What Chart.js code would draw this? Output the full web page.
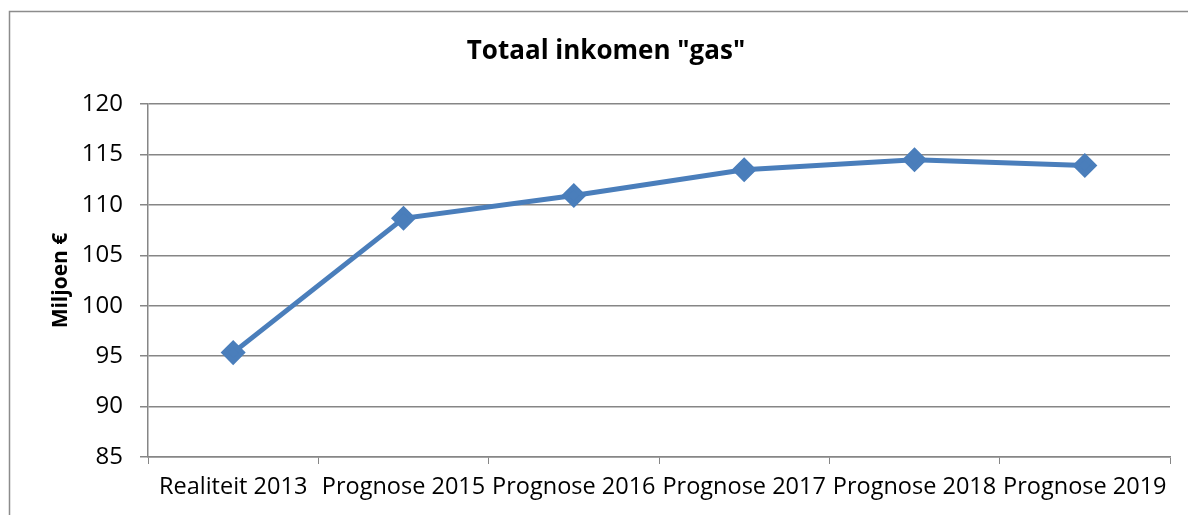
<!DOCTYPE html>
<html>
<head>
<meta charset="utf-8">
<script src="https://cdn.jsdelivr.net/npm/chart.js@4"></script>
<style>
  html, body { margin: 0; padding: 0; background: #fff; }
  #chart { display: block; }
</style>
</head>
<body>
<canvas id="chart" width="1188" height="515"></canvas>
<script>
// chart data
const categories = ['Realiteit 2013', 'Prognose 2015', 'Prognose 2016', 'Prognose 2017', 'Prognose 2018', 'Prognose 2019'];
const inkomen = [95.35, 108.67, 110.93, 113.48, 114.48, 113.9];
const yTicks = [85, 90, 95, 100, 105, 110, 115, 120];

const FONT = "'Open Sans', 'Noto Sans', sans-serif";
const GRID = '#868686';

// outer frame (only left and top edge visible in the picture)
const framePlugin = {
  id: 'frame',
  beforeDraw(chart) {
    const ctx = chart.ctx;
    ctx.save();
    ctx.fillStyle = '#fff';
    ctx.fillRect(0, 0, chart.width, chart.height);
    ctx.strokeStyle = '#8c8c8c';
    ctx.lineWidth = 1.5;
    ctx.beginPath();
    ctx.moveTo(9.5, chart.height);
    ctx.lineTo(9.5, 11.5);
    ctx.lineTo(chart.width, 11.5);
    ctx.stroke();
    ctx.restore();
  }
};

window.onload = function () {
  const ctx = document.getElementById('chart').getContext('2d');
  new Chart(ctx, {
    type: 'line',
    data: {
      labels: categories,
      datasets: [{
        label: 'Totaal inkomen',
        data: inkomen,
        borderColor: '#4A7EBB',
        backgroundColor: '#4A7EBB',
        borderWidth: 5,
        pointStyle: 'rectRot',
        pointRadius: 9,
        pointHoverRadius: 9,
        fill: false,
        tension: 0
      }]
    },
    options: {
      responsive: false,
      animation: false,
      layout: { padding: { left: 42, right: 18, top: 0, bottom: 0 } },
      plugins: {
        legend: { display: false },
        tooltip: { enabled: false },
        title: {
          display: true,
          text: 'Totaal inkomen "gas"',
          color: '#000',
          font: { family: FONT, size: 26, weight: 'bold', lineHeight: 1.2 },
          padding: { top: 36, bottom: 36.8 }
        }
      },
      scales: {
        x: {
          offset: true,
          grid: { display: true, drawOnChartArea: false, drawTicks: true, tickLength: 7, color: GRID, offset: true },
          border: { color: GRID, width: 1.5 },
          ticks: { color: '#000', font: { family: FONT, size: 23.5 }, padding: 9, maxRotation: 0, autoSkip: false },
          afterFit(scale) { scale.height = 515 - 457; }
        },
        y: {
          min: 85,
          max: 120,
          afterBuildTicks(scale) { scale.ticks = yTicks.map(v => ({ value: v })); },
          grid: { color: GRID, lineWidth: 1.5, tickLength: 8 },
          border: { color: GRID, width: 1.5 },
          ticks: { color: '#000', font: { family: FONT, size: 24 }, padding: 17 },
          title: {
            display: true,
            text: 'Miljoen €',
            color: '#000',
            font: { family: FONT, size: 21, weight: 'bold' },
            padding: { top: 6, bottom: 0 }
          },
          afterFit(scale) { scale.width = 148 - 42; }
        }
      }
    },
    plugins: [framePlugin]
  });
};
</script>
</body>
</html>
